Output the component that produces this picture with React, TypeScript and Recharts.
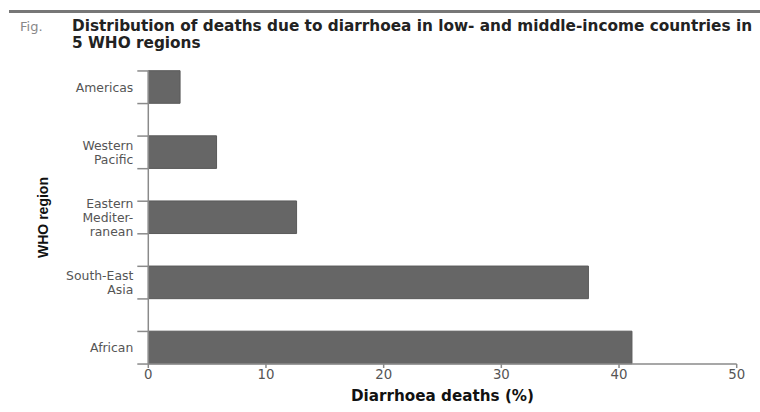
import React from 'react';
import { BarChart, Bar, XAxis, YAxis } from 'recharts';

const regions = ['Americas', 'Western Pacific', 'Eastern Mediterranean', 'South-East Asia', 'African'];
const regionLabels = [['Americas'], ['Western', 'Pacific'], ['Eastern', 'Mediter-', 'ranean'], ['South-East', 'Asia'], ['African']];
const deathsPct = [2.7, 5.8, 12.6, 37.4, 41.1];
const xTicks = [0, 10, 20, 30, 40, 50];

const data = regions.map((name, i) => ({ name, value: deathsPct[i] }));

const AXIS = '#8a8a8a';
const TEXT = '#555';
const BAR_SIZE = 32.6;
const FONT = '"DejaVu Sans", "Liberation Sans", sans-serif';

const RegionTick = ({ x, y, index }: any) => {
  const lines = regionLabels[index] || [];
  const lh = 13.6;
  const y0 = y - ((lines.length - 1) * lh) / 2;
  return (
    <g>
      <line x1={x - 11} x2={x} y1={y - BAR_SIZE / 2} y2={y - BAR_SIZE / 2} stroke={AXIS} strokeWidth={1.5} />
      <line x1={x - 11} x2={x} y1={y + BAR_SIZE / 2} y2={y + BAR_SIZE / 2} stroke={AXIS} strokeWidth={1.5} />
      {lines.map((l: string, i: number) => (
        <text key={i} x={x - 15} y={y0 + i * lh} textAnchor="end" dominantBaseline="central"
          fill={TEXT} fontSize={12.4} fontFamily={FONT}>{l}</text>
      ))}
    </g>
  );
};

const YTitle = ({ viewBox }: any) => {
  const cy = viewBox.y + viewBox.height / 2;
  return (
    <text x={43} y={cy} transform={`rotate(-90 43 ${cy})`} textAnchor="middle" dominantBaseline="central"
      fill="#111" fontSize={14} fontWeight="bold" fontFamily='"Liberation Sans Narrow", "Liberation Sans", sans-serif'>
      WHO region
    </text>
  );
};

export default function App() {
  return (
    <div style={{ position: 'relative', width: 760, height: 412, background: '#fff', fontFamily: FONT }}>
      <style>{'body{margin:0}'}</style>
      <div style={{ position: 'absolute', left: 9, right: 0, top: 9.5, height: 3, background: '#777' }} />
      <div style={{ position: 'absolute', left: 20, top: 18, fontSize: 13, color: '#888', lineHeight: '17px' }}>Fig.</div>
      <div style={{ position: 'absolute', left: 72, top: 18, fontSize: 15.3, fontWeight: 'bold', color: '#222', lineHeight: '17px', whiteSpace: 'pre' }}>
        {'Distribution of deaths due to diarrhoea in low- and middle-income countries in\n5 WHO regions'}
      </div>
      <BarChart width={760} height={412} data={data} layout="vertical"
        margin={{ top: 71, right: 23.3, bottom: 0, left: 0 }}>
        <XAxis type="number" domain={[0, 50]} ticks={xTicks} tickSize={4}
          axisLine={{ stroke: AXIS, strokeWidth: 1.5 }} tickLine={{ stroke: AXIS, strokeWidth: 1.5 }}
          tick={{ fill: TEXT, fontSize: 13.3, fontFamily: FONT }} height={48}
          label={{ value: 'Diarrhoea deaths (%)', position: 'insideBottom', offset: 11, fill: '#111', fontSize: 15.2, fontWeight: 'bold', fontFamily: FONT }} />
        <YAxis type="category" dataKey="name" width={148.3} tickLine={false} tickSize={0} tickMargin={0}
          axisLine={{ stroke: AXIS, strokeWidth: 1.5 }} tick={<RegionTick />} interval={0}
          padding={{ top: -16.3, bottom: -16.3 }} label={<YTitle />} />
        <Bar dataKey="value" fill="#666" stroke="#5a5a5a" strokeWidth={1} barSize={BAR_SIZE} isAnimationActive={false} />
      </BarChart>
    </div>
  );
}
